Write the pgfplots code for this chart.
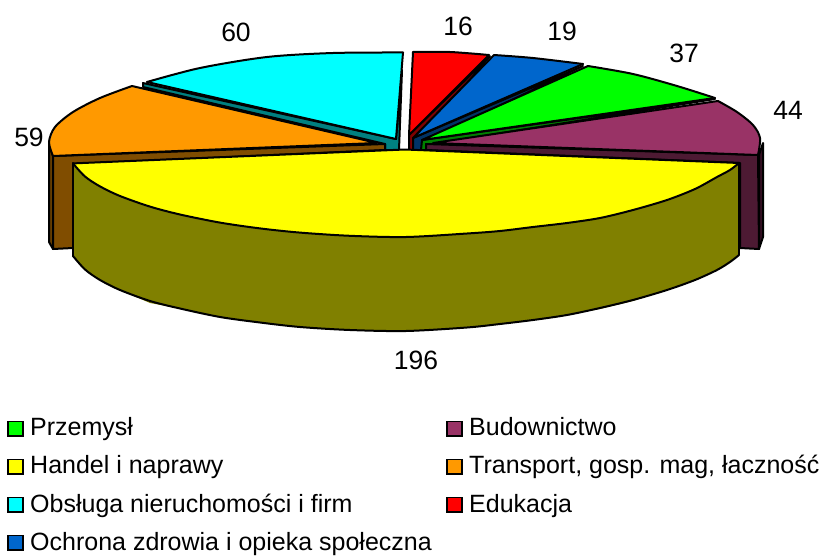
\documentclass[border=0pt]{standalone}
\usepackage{fontspec}
\setmainfont{Liberation Sans}
\usepackage{pgfplots}
\pgfplotsset{compat=1.18}
\definecolor{cCyan}{HTML}{00FFFF}\definecolor{cTeal}{HTML}{008080}
\definecolor{cRed}{HTML}{FF0000}\definecolor{cDRed}{HTML}{800000}
\definecolor{cBlue}{HTML}{0066CC}\definecolor{cDBlue}{HTML}{003366}
\definecolor{cGreen}{HTML}{00FF00}\definecolor{cDGreen}{HTML}{008000}
\definecolor{cPurple}{HTML}{993366}\definecolor{cDPurple}{HTML}{4D1A33}\definecolor{cRim}{HTML}{330F22}
\definecolor{cOrange}{HTML}{FF9900}\definecolor{cBrown}{HTML}{804D00}\definecolor{cRimB}{HTML}{663D00}
\definecolor{cYellow}{HTML}{FFFF00}\definecolor{cOlive}{HTML}{808000}
\newcommand{\lab}[3]{\node[anchor=center,inner sep=0pt] at (axis cs:#1,#2) {\fontsize{26.5}{30}\selectfont #3};}
\newcommand{\leg}[3]{\node[anchor=west,inner sep=0pt] at (axis cs:#1,#2) {\fontsize{25}{29}\selectfont\strut #3};}
\pgfplotsset{pie/.style={draw=black,line width=2pt,line join=round,mark=none,forget plot,fill=#1},
             face/.style={draw=none,mark=none,forget plot,fill=#1},
             edge/.style={draw=black,line width=2pt,line join=round,line cap=round,mark=none,forget plot},
             arc/.style={draw=black,line width=2pt,line join=round,line cap=round,mark=none,forget plot,smooth},
             sw/.style={draw=black,line width=1.8pt,line join=miter,mark=none,forget plot,fill=#1}}
\begin{document}
\begin{tikzpicture}
\begin{axis}[scale only axis,width=825pt,height=556pt,xmin=0,xmax=825,ymin=0,ymax=556,y dir=reverse,hide axis,clip=false]
\path (axis cs:0,0) -- (axis cs:825,556);
% cyan: 60
\addplot[pie=cTeal] coordinates {(143,83)(396,139)(402,70)(399,150)(385,150)(385,144)(143,87)} -- cycle;
\addplot[face=cCyan] coordinates {(147,82)(200,68)(267,57)(333,53)(403,52.5)(396,139)} -- cycle;
\addplot[arc] coordinates {(147,82)(200,68)(267,57)(333,53)(403,52.5)};
\addplot[edge] coordinates {(403,52.5)(396,139)(147,82)};
% red: 16
\addplot[pie=cDRed] coordinates {(490,56)(409,135)(409,150)(420,150)(420,140)} -- cycle;
\addplot[face=cRed] coordinates {(413,52)(450,52)(489,55)(409,135)} -- cycle;
\addplot[arc] coordinates {(413,52)(450,52)(489,55)};
\addplot[edge] coordinates {(489,55)(409,135)(413,52)};
% blue: 19
\addplot[pie=cDBlue] coordinates {(583,66)(413,138)(413,150)(422,150)(422,143)} -- cycle;
\addplot[face=cBlue] coordinates {(494,55)(533,58)(583,64)(413,138)} -- cycle;
\addplot[arc] coordinates {(494,55)(533,58)(583,64)};
\addplot[edge] coordinates {(583,64)(413,138)(494,55)};
% green: 37
\addplot[pie=cDGreen] coordinates {(715,99)(422,140)(421,150)(427,150)(427,145)} -- cycle;
\addplot[face=cGreen] coordinates {(588,66)(633,74)(677,86)(715,98)(422,140)} -- cycle;
\addplot[arc] coordinates {(588,66)(633,74)(677,86)(715,98)};
\addplot[edge] coordinates {(715,98)(422,140)(588,66)};
% purple: 44
\addplot[pie=cRim] coordinates {(759,155)(763,143)(763,237)(759,249)} -- cycle;
\addplot[pie=cDPurple] coordinates {(426,144)(758,155)(759,249)(740,248)(740,163)(426,150)} -- cycle;
\addplot[face=cPurple] coordinates {(718,101)(737,112)(753,125)(760,138)(758,155)(433,143)} -- cycle;
\addplot[arc] coordinates {(718,101)(737,112)(753,125)(760,138)(758,155)};
\addplot[edge] coordinates {(758,155)(433,143)(718,101)};
% orange: 59
\addplot[pie=cRimB] coordinates {(49,142)(53,156)(53,249)(49,242)} -- cycle;
\addplot[pie=cBrown] coordinates {(385,144)(53,156)(53,249)(73,248)(73,164)(385,150)} -- cycle;
\addplot[face=cOrange] coordinates {(132,86)(100,98)(73,112)(55,127)(49,142)(53,156)(377,143)} -- cycle;
\addplot[arc] coordinates {(132,86)(100,98)(73,112)(55,127)(49,142)(53,156)};
\addplot[edge] coordinates {(53,156)(377,143)(132,86)};
% yellow: 196
\addplot[face=cOlive] coordinates {(73,163)(73,256)(85,269.5)(100,280)(120,290)(150,303)(180,308.5)(220,317)(260,322.5)(300,327)(350,330)(406,331)(467,327.5)(500,324)(533,320)(567,315)(600,309)(633,301)(667,290)(695,280)(717,270)(730,262)(739,255)(739,163)} -- cycle;
\addplot[arc] coordinates {(73,256)(85,269.5)(100,280)(120,290)(150,301)(180,308.5)(220,317)(260,322.5)(300,327)(350,330)(406,331)(467,327.5)(500,324)(533,320)(567,315)(600,308)(633,300)(667,290)(695,280)(717,270)(730,262)(739,255)};
\addplot[edge] coordinates {(73,256)(73,163)};
\addplot[edge] coordinates {(739,255)(739,163)};
\addplot[face=cYellow] coordinates {(73,163.4)(85,176.5)(100,186.4)(120,196)(150,206.6)(180,214.5)(220,222.6)(260,228.4)(300,232.6)(350,235.8)(406,237)(467,233.5)(500,231)(533,227)(567,223)(600,218)(633,210)(667,200)(695,189)(717,177)(730,170)(739,163)(405,149.5)} -- cycle;
\addplot[arc] coordinates {(73,163.4)(85,176.5)(100,186.4)(120,196)(150,206.6)(180,214.5)(220,222.6)(260,228.4)(300,232.6)(350,235.8)(406,237)(467,233.5)(500,231)(533,227)(567,223)(600,218)(633,210)(667,200)(695,189)(717,177)(730,170)(739,163)};
\addplot[edge] coordinates {(73,163.4)(405,149.5)(739,163)};
% legend swatches
\addplot[sw=cGreen] coordinates {(8,421.5)(23,421.5)(23,436)(8,436)} -- cycle;
\addplot[sw=cPurple] coordinates {(447,421.5)(462,421.5)(462,436)(447,436)} -- cycle;
\addplot[sw=cYellow] coordinates {(8,459.5)(23,459.5)(23,474)(8,474)} -- cycle;
\addplot[sw=cOrange] coordinates {(447,459.5)(462,459.5)(462,474)(447,474)} -- cycle;
\addplot[sw=cCyan] coordinates {(8,497.5)(23,497.5)(23,512)(8,512)} -- cycle;
\addplot[sw=cRed] coordinates {(447,497.5)(462,497.5)(462,512)(447,512)} -- cycle;
\addplot[sw=cBlue] coordinates {(8,535.5)(23,535.5)(23,550)(8,550)} -- cycle;
\lab{236}{32}{60}\lab{29}{137}{59}\lab{458}{26}{16}\lab{562}{31}{19}\lab{684}{53}{37}\lab{788}{110}{44}\lab{416}{360}{196}
\leg{30}{430}{Przemysł}\leg{469}{430}{Budownictwo}
\leg{30}{468}{Handel i naprawy}\leg{469}{468}{Transport, gosp. mag, łaczność}
\leg{30}{507}{Obsługa nieruchomości i firm}\leg{469}{507}{Edukacja}
\leg{30}{545}{Ochrona zdrowia i opieka społeczna}
\end{axis}
\end{tikzpicture}
\end{document}
